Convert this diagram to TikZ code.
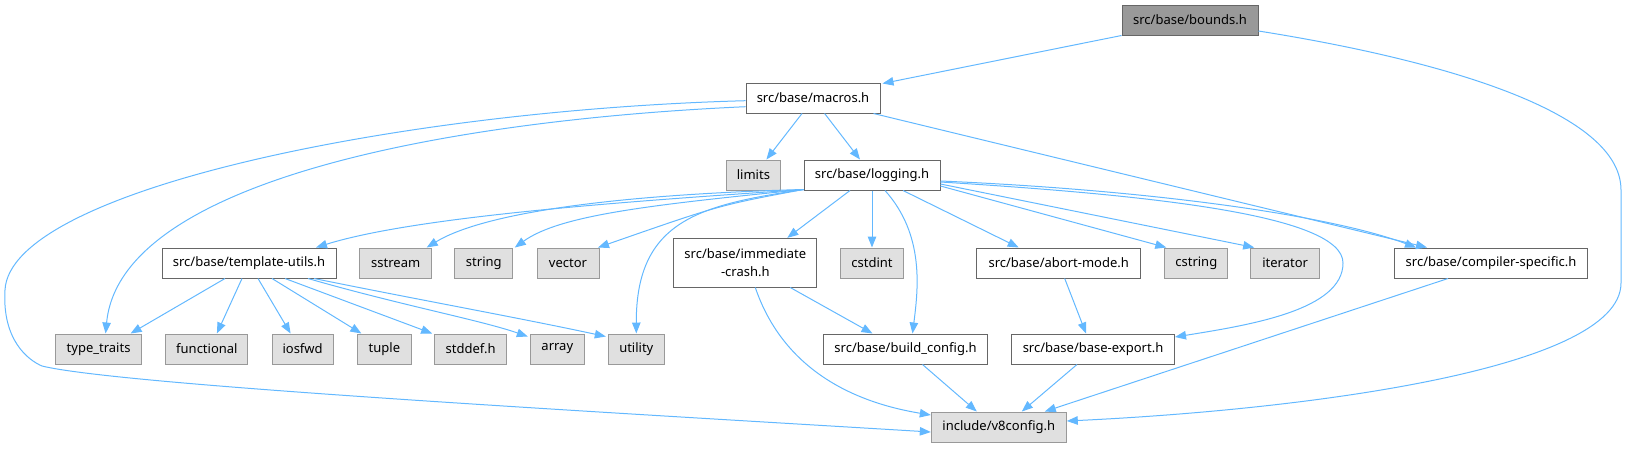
\documentclass[tikz,border=0pt]{standalone}
\usepackage{fontspec}
\setmainfont{Noto Sans}
\usetikzlibrary{arrows.meta}
\definecolor{edgec}{HTML}{63B8FF}
\definecolor{extfill}{HTML}{E0E0E0}
\definecolor{extdraw}{HTML}{999999}
\definecolor{intdraw}{HTML}{666666}
\definecolor{rootfill}{HTML}{999999}
\begin{document}
\begin{tikzpicture}[x=1pt,y=-1pt,
  every node/.style={font=\fontsize{13}{18.4}\selectfont, inner sep=0pt, line width=1pt},
  intbox/.style={draw=intdraw, fill=white, minimum height=30pt},
  extbox/.style={draw=extdraw, fill=extfill, minimum height=30pt},
  rootbox/.style={draw=intdraw, fill=rootfill, minimum height=30pt},
  e/.style={draw=edgec, line width=1pt, -{Triangle[length=11pt,width=8.5pt]}}]
\useasboundingbox (0,0) rectangle (1630,448);
% nodes
\node[rootbox, minimum width=136pt] (bounds) at (1190,20) {src/base/bounds.h};
\node[intbox, minimum width=134pt] (macros) at (813,98) {src/base/macros.h};
\node[extbox, minimum width=54pt] (limits) at (753.4,175) {limits};
\node[intbox, minimum width=136pt] (logging) at (872,175) {src/base/logging.h};
\node[intbox, minimum width=174pt] (tmpl) at (249,263) {src/base/template-utils.h};
\node[extbox, minimum width=72pt] (sstream) at (395.7,263) {sstream};
\node[extbox, minimum width=58pt] (string) at (483.8,263) {string};
\node[extbox, minimum width=62pt] (vector) at (568,263) {vector};
\node[intbox, minimum width=143pt, minimum height=48.7pt, align=center] (imm) at (745.3,262.7) {src/base/immediate\\-crash.h};
\node[extbox, minimum width=63pt] (cstdint) at (872,263) {cstdint};
\node[intbox, minimum width=164pt] (abort) at (1058.7,263) {src/base/abort-mode.h};
\node[extbox, minimum width=63pt] (cstring) at (1196.3,263) {cstring};
\node[extbox, minimum width=68.5pt] (iterator) at (1285.2,263) {iterator};
\node[intbox, minimum width=192.5pt] (compiler) at (1491,263) {src/base/compiler-specific.h};
\node[extbox, minimum width=86pt] (typetraits) at (98.6,349) {type\_traits};
\node[extbox, minimum width=82pt] (functional) at (206.9,349) {functional};
\node[extbox, minimum width=61pt] (iosfwd) at (302.6,349) {iosfwd};
\node[extbox, minimum width=53.4pt] (tuple) at (384.4,349) {tuple};
\node[extbox, minimum width=72pt] (stddef) at (470.7,349) {stddef.h};
\node[extbox, minimum width=54pt] (array) at (557.3,349) {array};
\node[extbox, minimum width=56pt] (utility) at (636.3,349) {utility};
\node[intbox, minimum width=164pt] (build) at (905.5,349) {src/base/build\_config.h};
\node[intbox, minimum width=163pt] (baseexp) at (1093,349) {src/base/base-export.h};
\node[extbox, minimum width=135pt] (v8) at (998.8,427) {include/v8config.h};
% edges from bounds
\draw[e] (bounds.south west) -- ([xshift=2pt,yshift=-1pt]macros.north east);
\draw[e] ([yshift=-11pt]bounds.east) .. controls (1410,55) and (1621,105) .. (1621,190)
  -- (1621,283) .. controls (1621,370) and (1300,410) .. ([yshift=6pt]v8.east);
% edges from macros
\draw[e] ([xshift=-11pt]macros.south) -- ([xshift=13pt]limits.north);
\draw[e] ([xshift=11.6pt]macros.south) -- ([xshift=-12pt]logging.north);
\draw[e] ([xshift=-7pt]macros.south east) -- ([xshift=-64pt]compiler.north);
\draw[e] ([yshift=-8.7pt]macros.west) .. controls (450,120) and (120,180) .. ([xshift=7pt]typetraits.north);
\draw[e] ([yshift=-2.7pt]macros.west) .. controls (400,110) and (10,190) .. (5,290)
  .. controls (2,340) and (28,360) .. (42,366)
  .. controls (120,385) and (600,412) .. ([yshift=-5pt]v8.west);
% edges from logging
\draw[e] ([yshift=1pt]logging.south west) .. controls (650,200) and (420,215) .. ([xshift=67pt]tmpl.north);
\draw[e] ([yshift=1pt]logging.south west) .. controls (600,195) and (480,215) .. ([xshift=31pt]sstream.north);
\draw[e] ([yshift=1pt]logging.south west) .. controls (650,205) and (560,215) .. ([xshift=31pt]string.north);
\draw[e] ([yshift=1pt]logging.south west) .. controls (720,205) .. ([xshift=30pt]vector.north);
\draw[e] ([yshift=1pt]logging.south west) .. controls (700,205) and (636,220) .. (utility.north);
\draw[e] ([xshift=-22pt]logging.south) -- ([xshift=42pt]imm.north);
\draw[e] (logging.south) -- (cstdint.north);
\draw[e] ([xshift=13pt]logging.south) .. controls (925,235) and (918,290) .. ([xshift=7pt]build.north);
\draw[e] ([xshift=31pt]logging.south) -- ([xshift=-40pt]abort.north);
\draw[e] ([yshift=-11pt]logging.east) -- ([xshift=-30pt]cstring.north);
\draw[e] ([yshift=-9pt]logging.east) -- ([xshift=-31pt]iterator.north);
\draw[e] ([yshift=-7pt]logging.east) .. controls (1150,195) and (1343,215) .. (1343,263)
  .. controls (1343,310) and (1250,325) .. ([yshift=12pt]baseexp.east);
\draw[e] ([yshift=-6pt]logging.east) .. controls (1150,190) and (1330,215) .. ([xshift=-75pt]compiler.north);
% edges from immediate-crash
\draw[e] ([xshift=45pt]imm.south) -- ([xshift=-33pt]build.north);
\draw[e] ([xshift=10pt]imm.south) .. controls (780,360) and (840,400) .. ([yshift=12pt]v8.west);
% edges from template-utils
\draw[e] ([xshift=-24pt]tmpl.south) -- ([xshift=32pt]typetraits.north);
\draw[e] ([xshift=-7pt]tmpl.south) -- ([xshift=10pt]functional.north);
\draw[e] ([xshift=9pt]tmpl.south) -- ([xshift=-12pt]iosfwd.north);
\draw[e] ([xshift=23pt]tmpl.south) -- ([xshift=-23pt]tuple.north);
\draw[e] ([xshift=36pt]tmpl.south) -- ([xshift=-2pt]stddef.north west);
\draw[e] ([xshift=59pt]tmpl.south) .. controls (400,305) and (480,320) .. ([xshift=-2pt,yshift=-3pt]array.north west);
\draw[e] ([xshift=65pt]tmpl.south) .. controls (420,300) and (520,318) .. ([xshift=-2pt,yshift=-3pt]utility.north west);
% remaining
\draw[e] ([xshift=6pt]abort.south) -- ([xshift=-7pt]baseexp.north);
\draw[e] ([xshift=17pt]build.south) -- ([xshift=-22pt]v8.north);
\draw[e] ([xshift=-16pt]baseexp.south) -- ([xshift=23pt]v8.north);
\draw[e] ([xshift=-43pt]compiler.south) -- ([xshift=46pt]v8.north);
\end{tikzpicture}
\end{document}
